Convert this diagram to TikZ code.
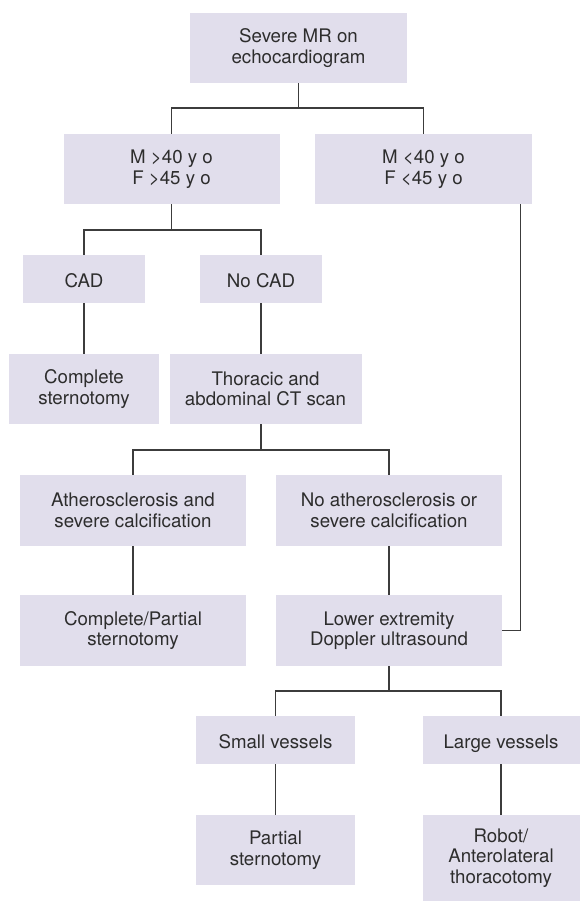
\documentclass[tikz,border=0pt]{standalone}
\usepackage{fontspec}
\setmainfont{TeX Gyre Heros}
\definecolor{boxfill}{RGB}{225,222,236}
\definecolor{textcol}{RGB}{45,45,45}
\definecolor{linecol}{RGB}{60,60,60}
\begin{document}
\begin{tikzpicture}[x=1pt,y=-1pt,
  box/.style={fill=boxfill, align=center, inner sep=0pt, text=textcol,
    font=\fontsize{18.7}{20.5}\selectfont},
  oneline/.style={text height=16pt, text depth=0pt},
  conn/.style={draw=linecol, line width=1.2pt}]
\useasboundingbox (0,0) rectangle (579,901);
% boxes
\node[box, minimum width=217pt, minimum height=70pt] (top) at (298.5,48) {Severe MR on\\echocardiogram};
\node[box, minimum width=216pt, minimum height=70pt] (m40) at (171.5,169) {M >40 y o\\F >45 y o};
\node[box, minimum width=217pt, minimum height=70pt] (ml40) at (423.5,169) {M <40 y o\\F <45 y o};
\node[box, oneline, minimum width=122pt, minimum height=48pt] (cad) at (84,279) {CAD};
\node[box, oneline, minimum width=122pt, minimum height=48pt] (nocad) at (261,279) {No CAD};
\node[box, minimum width=150pt, minimum height=70pt] (comp) at (84,389) {Complete\\sternotomy};
\node[box, minimum width=192pt, minimum height=70pt] (ct) at (265.5,389) {Thoracic and\\abdominal CT scan};
\node[box, minimum width=226pt, minimum height=71pt] (ath) at (133,510.5) {Atherosclerosis and\\severe calcification};
\node[box, minimum width=226pt, minimum height=71pt] (noath) at (389,510.5) {No atherosclerosis or\\severe calcification};
\node[box, minimum width=226pt, minimum height=71pt] (cp) at (133,630.5) {Complete/Partial\\sternotomy};
\node[box, minimum width=226pt, minimum height=71pt] (lower) at (389,630.5) {Lower extremity\\Doppler ultrasound};
\node[box, oneline, minimum width=159pt, minimum height=48pt] (small) at (275.5,740) {Small vessels};
\node[box, oneline, minimum width=157pt, minimum height=48pt] (large) at (501,740) {Large vessels};
\node[box, minimum width=159pt, minimum height=70pt] (partial) at (275.5,850) {Partial\\sternotomy};
\node[box, minimum width=157pt, minimum height=86pt] (robot) at (501,858) {Robot/\\Anterolateral\\thoracotomy};
% junction levels
\coordinate (y1) at (0,108);
\coordinate (y2) at (0,230);
\coordinate (y3) at (0,450);
\coordinate (y4) at (0,691);
\coordinate (xr) at (520.7,0);
% connectors
\draw[conn] (top.south) -- (top.south |- y1);
\draw[conn] (m40.north) -- (m40.north |- y1) -- (ml40.north |- y1) -- (ml40.north);
\draw[conn] (m40.south) -- (m40.south |- y2);
\draw[conn] (cad.north) -- (cad.north |- y2) -- (nocad.north |- y2) -- (nocad.north);
\draw[conn] (cad.south) -- (comp.north);
\draw[conn] (nocad.south) -- (nocad.south |- ct.north);
\draw[conn] (ct.south -| nocad.south) -- (nocad.south |- y3);
\draw[conn] (ath.north) -- (ath.north |- y3) -- (noath.north |- y3) -- (noath.north);
\draw[conn] (ath.south) -- (cp.north);
\draw[conn] (noath.south) -- (lower.north);
\draw[conn] (ml40.south -| xr) -- (xr |- lower.east) -- (lower.east);
\draw[conn] (lower.south) -- (lower.south |- y4);
\draw[conn] (small.north) -- (small.north |- y4) -- (large.north |- y4) -- (large.north);
\draw[conn] (small.south) -- (partial.north);
\draw[conn] (large.south) -- (robot.north);
\end{tikzpicture}
\end{document}
